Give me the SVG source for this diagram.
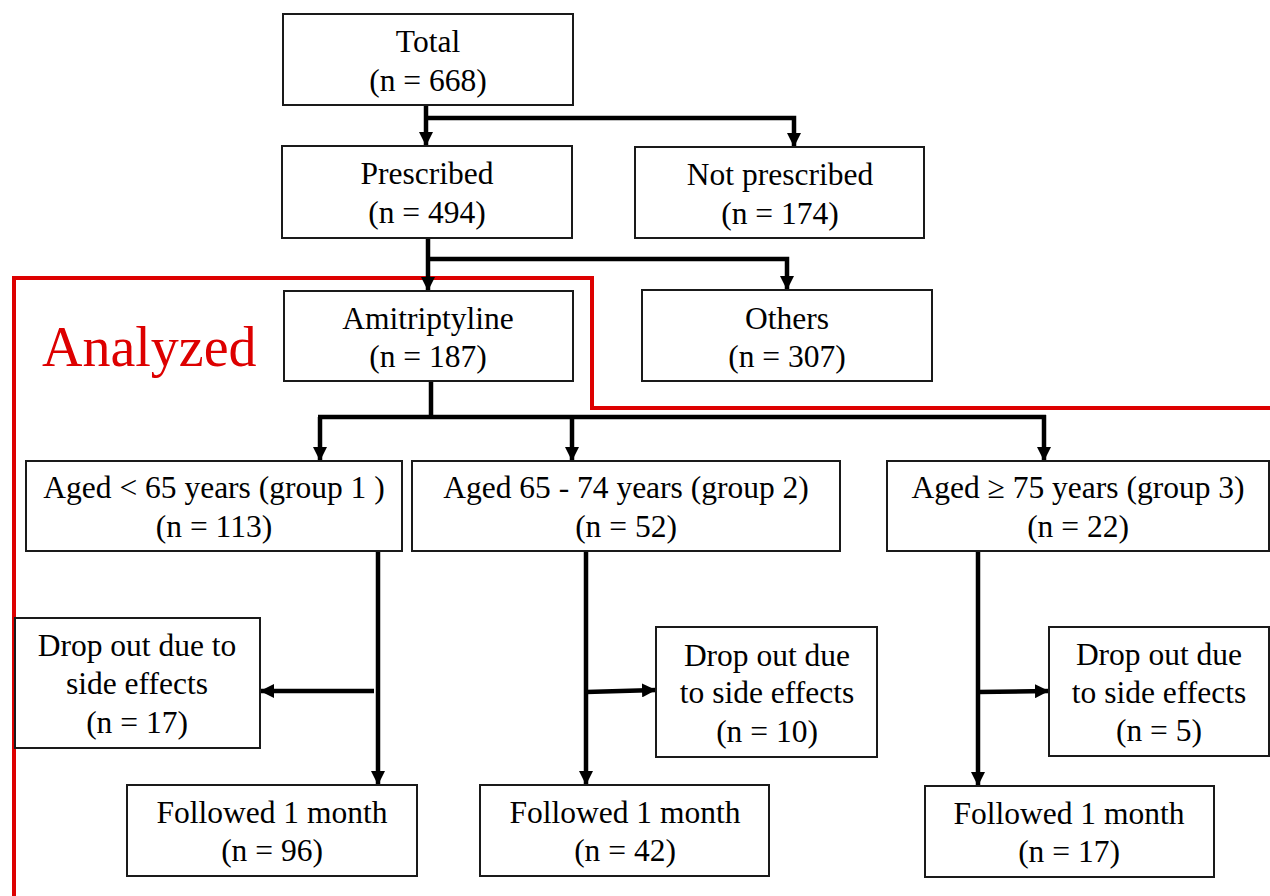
<svg xmlns="http://www.w3.org/2000/svg" width="1270" height="896" viewBox="0 0 1270 896">
<style>
.box{fill:#fff;stroke:#1a1a1a;stroke-width:2}
.t{font-family:"Liberation Serif","Times New Roman",serif;font-size:31.5px;fill:#000;text-anchor:middle}
.c{fill:none;stroke:#000;stroke-width:4.5}
.red{fill:none;stroke:#dd0000;stroke-width:4}
</style>
<defs>
<marker id="ah" markerUnits="userSpaceOnUse" markerWidth="15" markerHeight="14" refX="14" refY="7" orient="auto">
<path d="M0,0 L14,7 L0,14 z" fill="#000"/>
</marker>
</defs>
<rect width="1270" height="896" fill="#fff"/>
<g id="analyzed-region">
<path class="red" d="M14,896 V278 H592 V408 H1270"/>
<text x="42" y="366" font-family="Liberation Serif,Times New Roman,serif" font-size="56" fill="#dd0000">Analyzed</text>
</g>
<g id="connectors">
<path class="c" d="M426,105 V146" marker-end="url(#ah)"/>
<path class="c" d="M426,118 H794 V147" marker-end="url(#ah)"/>
<path class="c" d="M428,238 V291" marker-end="url(#ah)"/>
<path class="c" d="M428,259 H787 V290" marker-end="url(#ah)"/>
<path class="c" d="M431,381 V417 M318,417 H1046"/>
<path class="c" d="M320,417 V461" marker-end="url(#ah)"/>
<path class="c" d="M572,417 V461" marker-end="url(#ah)"/>
<path class="c" d="M1044,415 V461" marker-end="url(#ah)"/>
<path class="c" d="M378,552 V785" marker-end="url(#ah)"/>
<path class="c" d="M374,691 H260" marker-end="url(#ah)"/>
<path class="c" d="M586,552 V785" marker-end="url(#ah)"/>
<path class="c" d="M586,692 L656,690" marker-end="url(#ah)"/>
<path class="c" d="M978,552 V786" marker-end="url(#ah)"/>
<path class="c" d="M978,692 L1049,691" marker-end="url(#ah)"/>
</g>
<g id="total">
<rect class="box" x="283" y="14" width="290" height="91"/>
<text class="t" x="428" y="52">Total</text>
<text class="t" x="428" y="91">(n = 668)</text>
</g>
<g id="prescribed">
<rect class="box" x="282" y="146" width="290" height="92"/>
<text class="t" x="427" y="184">Prescribed</text>
<text class="t" x="427" y="223">(n = 494)</text>
</g>
<g id="not-prescribed">
<rect class="box" x="635" y="147" width="289" height="91"/>
<text class="t" x="780" y="185">Not prescribed</text>
<text class="t" x="780" y="224">(n = 174)</text>
</g>
<g id="amitriptyline">
<rect class="box" x="284" y="291" width="289" height="90"/>
<text class="t" x="428" y="329">Amitriptyline</text>
<text class="t" x="428" y="367">(n = 187)</text>
</g>
<g id="others">
<rect class="box" x="642" y="290" width="290" height="91"/>
<text class="t" x="787" y="329">Others</text>
<text class="t" x="787" y="367">(n = 307)</text>
</g>
<g id="group1">
<rect class="box" x="26" y="461" width="376" height="90"/>
<text class="t" x="214" y="498">Aged &lt; 65 years (group 1 )</text>
<text class="t" x="214" y="537">(n = 113)</text>
</g>
<g id="group2">
<rect class="box" x="412" y="461" width="428" height="90"/>
<text class="t" x="626" y="498">Aged 65 - 74 years (group 2)</text>
<text class="t" x="626" y="537">(n = 52)</text>
</g>
<g id="group3">
<rect class="box" x="887" y="461" width="382" height="90"/>
<text class="t" x="1078" y="498">Aged ≥ 75 years (group 3)</text>
<text class="t" x="1078" y="537">(n = 22)</text>
</g>
<g id="drop1">
<rect class="box" x="15" y="618" width="245" height="130"/>
<text class="t" x="137" y="656">Drop out due to</text>
<text class="t" x="137" y="694">side effects</text>
<text class="t" x="137" y="733">(n = 17)</text>
</g>
<g id="drop2">
<rect class="box" x="656" y="627" width="221" height="130"/>
<text class="t" x="767" y="666">Drop out due</text>
<text class="t" x="767" y="703">to side effects</text>
<text class="t" x="767" y="742">(n = 10)</text>
</g>
<g id="drop3">
<rect class="box" x="1049" y="627" width="220" height="129"/>
<text class="t" x="1159" y="665">Drop out due</text>
<text class="t" x="1159" y="703">to side effects</text>
<text class="t" x="1159" y="741">(n = 5)</text>
</g>
<g id="followed1">
<rect class="box" x="127" y="785" width="290" height="91"/>
<text class="t" x="272" y="823">Followed 1 month</text>
<text class="t" x="272" y="861">(n = 96)</text>
</g>
<g id="followed2">
<rect class="box" x="480" y="785" width="289" height="91"/>
<text class="t" x="625" y="823">Followed 1 month</text>
<text class="t" x="625" y="861">(n = 42)</text>
</g>
<g id="followed3">
<rect class="box" x="925" y="786" width="289" height="91"/>
<text class="t" x="1069" y="824">Followed 1 month</text>
<text class="t" x="1069" y="862">(n = 17)</text>
</g>
</svg>
